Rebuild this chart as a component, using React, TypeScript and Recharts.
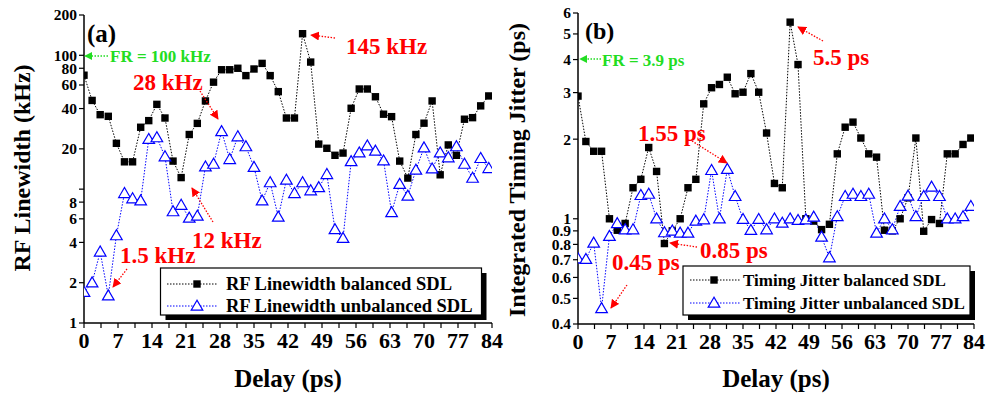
import React from 'react';
import { LineChart, Line, XAxis, YAxis } from 'recharts';

const delays = [0, 1.67, 3.33, 5, 6.67, 8.33, 10, 11.67, 13.33, 15, 16.67, 18.33, 20, 21.67, 23.33, 25, 26.67, 28.33, 30, 31.67, 33.33, 35, 36.67, 38.33, 40, 41.67, 43.33, 45, 46.67, 48.33, 50, 51.67, 53.33, 55, 56.67, 58.33, 60, 61.67, 63.33, 65, 66.67, 68.33, 70, 71.67, 73.33, 75, 76.67, 78.33, 80, 81.67, 83.33];

const rfBalanced = [71, 46, 36, 35, 22, 16, 16, 29, 32.5, 43, 34, 16.2, 12.2, 25.6, 31, 45.6, 63, 78, 78, 80, 70.5, 79, 87, 70.5, 53.5, 34, 34, 145, 89, 21.7, 20.2, 17.9, 18.6, 40.2, 56, 56, 49, 36.3, 34.8, 16.2, 12.1, 25.6, 31.1, 45.6, 12.8, 21.4, 17.9, 33.3, 34.2, 41.9, 49.7];
const rfUnbalanced = [1.7, 2.0, 3.4, 1.6, 4.5, 9.3, 8.5, 8.2, 23.6, 24.3, 17.5, 6.8, 7.6, 6.1, 6.3, 14.7, 15.4, 27, 16.7, 24.7, 20.8, 14.6, 8.2, 11.2, 6.2, 11.7, 9.3, 11.2, 9.75, 10.3, 12.9, 5.0, 4.3, 16.1, 18.7, 21.1, 19.3, 16.3, 6.7, 10.9, 8.9, 13.9, 20.4, 14.2, 18.7, 17.2, 20.8, 15.4, 12.1, 17.0, 14.3];

const tjBalanced = [2.91, 1.96, 1.8, 1.8, 1.0, 0.905, 0.96, 1.31, 1.41, 1.86, 1.51, 0.806, 0.9, 1.0, 1.31, 1.41, 2.72, 3.13, 3.22, 3.43, 2.97, 3.01, 3.54, 3.01, 2.11, 1.36, 1.31, 5.54, 3.83, 1.0, 0.98, 0.91, 0.953, 1.76, 2.22, 2.32, 2.02, 1.76, 1.71, 0.905, 0.9, 1.0, 1.2, 2.02, 0.897, 0.993, 0.96, 1.76, 1.76, 1.91, 2.02];
const tjUnbalanced = [0.707, 0.703, 0.81, 0.458, 0.859, 0.96, 0.91, 0.91, 1.227, 1.24, 1.0, 0.887, 0.9, 0.884, 0.884, 0.981, 0.993, 1.525, 1.0, 1.54, 1.216, 0.996, 0.905, 0.996, 0.91, 1.0, 0.964, 1.0, 0.987, 0.993, 1.016, 0.854, 0.713, 1.02, 1.216, 1.24, 1.216, 1.24, 0.884, 1.0, 0.91, 1.115, 1.22, 1.02, 1.216, 1.32, 1.216, 1.0, 1.0, 1.02, 1.115];

const xTicks = [0, 3.5, 7, 10.5, 14, 17.5, 21, 24.5, 28, 31.5, 35, 38.5, 42, 45.5, 49, 52.5, 56, 59.5, 63, 66.5, 70, 73.5, 77, 80.5, 84];
const xLabelTicks = [0, 7, 14, 21, 28, 35, 42, 49, 56, 63, 70, 77, 84];
const aYTicks = [1, 2, 4, 6, 8, 10, 20, 40, 60, 80, 100, 200];
const aYLabelTicks = [1, 2, 4, 6, 8, 20, 40, 60, 80, 100, 200];
const bYTicks = [0.4, 0.5, 0.6, 0.7, 0.8, 0.9, 1, 2, 3, 4, 5, 6];
const bYLabelTicks = [0.4, 0.5, 0.6, 0.7, 0.8, 0.9, 1, 2, 3, 4, 5, 6];

const FONT = 'Liberation Serif, Times New Roman, serif';
const BLUE = '#0000ff';
const RED = '#ff0000';
const GREEN = '#22dd22';

const dataA = delays.map((d, i) => ({ d, bal: rfBalanced[i], unb: rfUnbalanced[i] }));
const dataB = delays.map((d, i) => ({ d, bal: tjBalanced[i], unb: tjUnbalanced[i] }));

const has = (arr: number[], v: number) => arr.some((a) => Math.abs(a - v) < 1e-6);

const bottomTick = (props: any) => {
  const { x, y, payload } = props;
  const v = payload.value;
  return (
    <g>
      <line x1={x} y1={y} x2={x} y2={y + 5} stroke="#000" strokeWidth={1.2} />
      {has(xLabelTicks, v) && (
        <text x={x} y={y + 25} textAnchor="middle" fontFamily={FONT} fontWeight="bold" fontSize={22} fill="#000">
          {v}
        </text>
      )}
    </g>
  );
};
const topTick = (props: any) => {
  const { x, y } = props;
  return <line x1={x} y1={y} x2={x} y2={y + 5} stroke="#000" strokeWidth={1.2} />;
};
const makeLeftTick = (labels: number[]) => (props: any) => {
  const { x, y, payload } = props;
  const v = payload.value;
  return (
    <g>
      <line x1={x - 5} y1={y} x2={x} y2={y} stroke="#000" strokeWidth={1.2} />
      {has(labels, v) && (
        <text x={x - 7} y={y} dy="0.35em" textAnchor="end" fontFamily={FONT} fontWeight="bold" fontSize={15.5} fill="#000">
          {v}
        </text>
      )}
    </g>
  );
};
const rightTick = (props: any) => {
  const { x, y } = props;
  return <line x1={x - 5} y1={y} x2={x} y2={y} stroke="#000" strokeWidth={1.2} />;
};

const Square = (props: any) => {
  const { cx, cy, index } = props;
  if (cx == null || cy == null) return <g key={index} />;
  return <rect key={index} x={cx - 3.7} y={cy - 3.7} width={7.4} height={7.4} fill="#000" />;
};
const Tri = (props: any) => {
  const { cx, cy, index } = props;
  if (cx == null || cy == null) return <g key={index} />;
  return (
    <polygon
      key={index}
      points={`${cx},${cy - 5.8} ${cx - 5.8},${cy + 4.2} ${cx + 5.8},${cy + 4.2}`}
      fill="#fff"
      stroke={BLUE}
      strokeWidth={1.2}
    />
  );
};

const axisLine = { stroke: '#000', strokeWidth: 1.5 };

function Panel(props: {
  data: any[];
  width: number;
  margin: any;
  yWidth: number;
  xHeight: number;
  yDomain: [number, number];
  yTicks: number[];
  yLabels: number[];
}) {
  const { data, width, margin, yWidth, xHeight, yDomain, yTicks, yLabels } = props;
  return (
    <LineChart width={width} height={394} data={data} margin={margin}>
      <XAxis
        xAxisId="b"
        dataKey="d"
        type="number"
        domain={[0, 84]}
        ticks={xTicks}
        interval={0}
        height={xHeight}
        tickSize={0}
        tickMargin={0}
        tickLine={false}
        axisLine={axisLine}
        tick={bottomTick}
        allowDataOverflow
      />
      <XAxis
        xAxisId="t"
        orientation="top"
        dataKey="d"
        type="number"
        domain={[0, 84]}
        ticks={xTicks}
        interval={0}
        height={0}
        tickSize={0}
        tickMargin={0}
        tickLine={false}
        axisLine={axisLine}
        tick={topTick}
        allowDataOverflow
      />
      <YAxis
        yAxisId="l"
        scale="log"
        type="number"
        domain={yDomain}
        ticks={yTicks}
        interval={0}
        width={yWidth}
        tickSize={0}
        tickMargin={0}
        tickLine={false}
        axisLine={axisLine}
        tick={makeLeftTick(yLabels)}
        allowDataOverflow
      />
      <YAxis
        yAxisId="r"
        orientation="right"
        scale="log"
        type="number"
        domain={yDomain}
        ticks={yTicks}
        interval={0}
        width={0}
        tickSize={0}
        tickMargin={0}
        tickLine={false}
        axisLine={axisLine}
        tick={rightTick}
        allowDataOverflow
      />
      <Line
        xAxisId="b"
        yAxisId="l"
        dataKey="bal"
        stroke="#000"
        strokeWidth={1}
        strokeDasharray="1.5 1.5"
        dot={Square}
        isAnimationActive={false}
      />
      <Line
        xAxisId="t"
        yAxisId="r"
        dataKey="unb"
        stroke={BLUE}
        strokeWidth={1}
        strokeDasharray="1.5 1.5"
        dot={Tri}
        isAnimationActive={false}
      />
    </LineChart>
  );
}

const T = (p: any) => {
  const { x, y, size, color, anchor, rotate, children } = p;
  return (
    <text
      x={0}
      y={0}
      transform={`translate(${x},${y})${rotate ? ` rotate(${rotate})` : ''}`}
      dy="0.35em"
      textAnchor={anchor || 'start'}
      fontFamily={FONT}
      fontWeight="bold"
      fontSize={size}
      fill={color || '#000'}
    >
      {children}
    </text>
  );
};

const Arrow = (p: any) => {
  const { x1, y1, x2, y2, color, id } = p;
  return <line x1={x1} y1={y1} x2={x2} y2={y2} stroke={color} strokeWidth={1.3} strokeDasharray="1.5 1.5" markerEnd={`url(#${id})`} />;
};

function Legend(p: any) {
  const { x, y, w, h, lineX1, lineX2, mx, tx, r1, r2, t1, t2, fs } = p;
  return (
    <g>
      <rect x={x + 5} y={y + 5} width={w} height={h} fill="#000" />
      <rect x={x} y={y} width={w} height={h} fill="#fff" stroke="#000" strokeWidth={1.2} />
      <line x1={lineX1} y1={r1} x2={lineX2} y2={r1} stroke="#000" strokeDasharray="1.5 1.5" />
      <rect x={mx - 3.7} y={r1 - 3.7} width={7.4} height={7.4} fill="#000" />
      <line x1={lineX1} y1={r2} x2={lineX2} y2={r2} stroke={BLUE} strokeDasharray="1.5 1.5" />
      <polygon points={`${mx},${r2 - 5.8} ${mx - 5.8},${r2 + 4.2} ${mx + 5.8},${r2 + 4.2}`} fill="#fff" stroke={BLUE} strokeWidth={1.2} />
      <T x={tx} y={r1} size={fs}>{t1}</T>
      <T x={tx} y={r2} size={fs}>{t2}</T>
    </g>
  );
}

export default function App() {
  return (
    <div style={{ position: 'absolute', left: 0, top: 0, width: 987, height: 394, background: '#fff', overflow: 'hidden' }}>
      <div style={{ position: 'absolute', left: 0, top: 0 }}>
        <Panel
          data={dataA}
          width={520}
          margin={{ top: 15, right: 28, bottom: 0, left: 0 }}
          yWidth={84}
          xHeight={71}
          yDomain={[1, 200]}
          yTicks={aYTicks}
          yLabels={aYLabelTicks}
        />
      </div>
      <div style={{ position: 'absolute', left: 494, top: 0 }}>
        <Panel
          data={dataB}
          width={493}
          margin={{ top: 13, right: 13, bottom: 0, left: 0 }}
          yWidth={84}
          xHeight={70}
          yDomain={[0.4, 6]}
          yTicks={bYTicks}
          yLabels={bYLabelTicks}
        />
      </div>
      <svg width={987} height={394} style={{ position: 'absolute', left: 0, top: 0, pointerEvents: 'none' }}>
        <defs>
          <marker id="ar" viewBox="0 0 10 10" refX="9" refY="5" markerWidth="9" markerHeight="9" markerUnits="userSpaceOnUse" orient="auto">
            <path d="M0,0 L10,5 L0,10 z" fill={RED} />
          </marker>
          <marker id="ag" viewBox="0 0 10 10" refX="9" refY="5" markerWidth="8" markerHeight="8" markerUnits="userSpaceOnUse" orient="auto">
            <path d="M0,0 L10,5 L0,10 z" fill={GREEN} />
          </marker>
        </defs>

        {/* axis titles */}
        <T x={22} y={168} size={24} anchor="middle" rotate={-90}>RF Linewidth (kHz)</T>
        <T x={288} y={378} size={25} anchor="middle">Delay (ps)</T>
        <T x={517} y={170} size={24} anchor="middle" rotate={-90}>Integrated Timing Jitter (ps)</T>
        <T x={776} y={378} size={25} anchor="middle">Delay (ps)</T>

        {/* panel a annotations */}
        <T x={87} y={33} size={25}>(a)</T>
        <Arrow x1={108} y1={56} x2={85} y2={56} color={GREEN} id="ag" />
        <T x={110} y={56} size={17} color={GREEN}>FR = 100 kHz</T>
        <T x={133} y={82} size={23} color={RED}>28 kHz</T>
        <Arrow x1={200} y1={91} x2={218} y2={119} color={RED} id="ar" />
        <T x={346} y={46} size={23} color={RED}>145 kHz</T>
        <Arrow x1={335} y1={38} x2={311} y2={35} color={RED} id="ar" />
        <T x={192} y={240} size={23} color={RED}>12 kHz</T>
        <Arrow x1={213} y1={222} x2={192} y2={188} color={RED} id="ar" />
        <T x={120} y={255} size={23} color={RED}>1.5 kHz</T>
        <Arrow x1={127} y1={269} x2={113} y2={287} color={RED} id="ar" />

        {/* panel b annotations */}
        <T x={585} y={31} size={24}>(b)</T>
        <Arrow x1={601} y1={59} x2={580} y2={59} color={GREEN} id="ag" />
        <T x={602} y={60} size={17} color={GREEN}>FR = 3.9 ps</T>
        <T x={638} y={133} size={23} color={RED}>1.55 ps</T>
        <Arrow x1={692} y1={141} x2={727} y2={163} color={RED} id="ar" />
        <T x={813} y={57} size={23} color={RED}>5.5 ps</T>
        <Arrow x1={823} y1={41} x2={798} y2={27} color={RED} id="ar" />
        <T x={700} y={250} size={23} color={RED}>0.85 ps</T>
        <Arrow x1={697} y1={247} x2={670} y2={243} color={RED} id="ar" />
        <T x={612} y={262} size={23} color={RED}>0.45 ps</T>
        <Arrow x1={627} y1={285} x2={611} y2={308} color={RED} id="ar" />

        <Legend x={160.5} y={268} w={321} h={47} lineX1={167} lineX2={218} mx={197} tx={226} r1={284} r2={306} fs={18.5}
          t1="RF Linewidth balanced SDL" t2="RF Linewidth unbalanced SDL" />
        <Legend x={683} y={266} w={287} h={49} lineX1={690} lineX2={741} mx={714} tx={743} r1={280} r2={303} fs={17}
          t1="Timing Jitter balanced SDL" t2="Timing Jitter unbalanced SDL" />
      </svg>
    </div>
  );
}
